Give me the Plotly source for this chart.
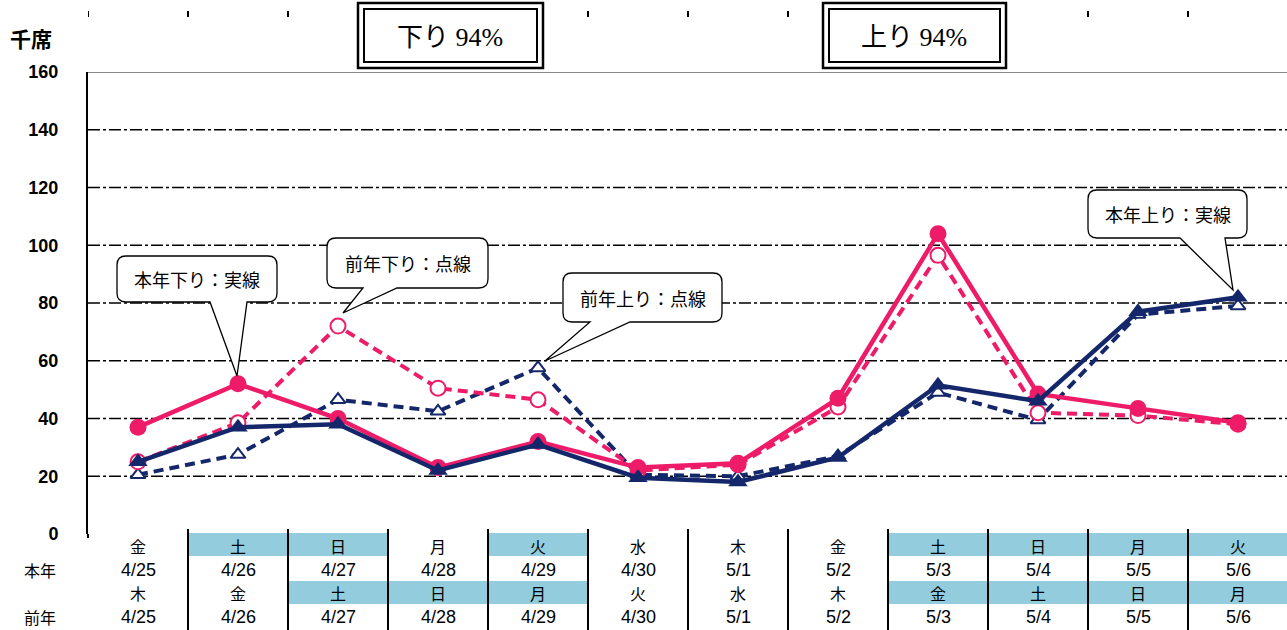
import plotly.graph_objects as go

# ---------------- data ----------------
DATES_THIS = ["4/25", "4/26", "4/27", "4/28", "4/29", "4/30", "5/1", "5/2", "5/3", "5/4", "5/5", "5/6"]
DOW_THIS = ["金", "土", "日", "月", "火", "水", "木", "金", "土", "日", "月", "火"]
HOLIDAY_THIS = [0, 1, 1, 0, 1, 0, 0, 0, 1, 1, 1, 1]
DATES_PREV = ["4/25", "4/26", "4/27", "4/28", "4/29", "4/30", "5/1", "5/2", "5/3", "5/4", "5/5", "5/6"]
DOW_PREV = ["木", "金", "土", "日", "月", "火", "水", "木", "金", "土", "日", "月"]
HOLIDAY_PREV = [0, 0, 1, 1, 1, 0, 0, 0, 1, 1, 1, 1]

DOWN_THIS = [37, 52, 40, 23, 32, 23, 24.5, 47, 104, 48.5, 43.5, 38.5]
DOWN_PREV = [25, 38.5, 72, 50.5, 46.5, 22, 24, 44, 96.5, 42, 41, 38]
UP_THIS = [25, 37, 38, 22, 31, 19.5, 18, 26.5, 51.5, 46, 77, 82]
UP_PREV = [20.5, 27.5, 46.5, 42.5, 57.5, 20.5, 20, 27, 49, 39.5, 76, 79]

Y_TICKS = [0, 20, 40, 60, 80, 100, 120, 140, 160]
GRID_VALUES = [20, 40, 60, 80, 100, 120, 140]
BOX_TEXTS = ["下り 94%", "上り 94%"]
CALLOUTS = ["本年下り：実線", "前年下り：点線", "前年上り：点線", "本年上り：実線"]

PINK = "#EE1C68"
NAVY = "#15276B"
CYAN = "#93CDDD"
FONT = "Noto Sans CJK JP"

# ---------------- geometry helpers ----------------
W, H = 1287, 630
L, T, PW, PH = 88, 72, 1199, 462


def px(x):
    return (x - L) / PW


def py(y):
    return (T + PH - y) / PH


x = list(range(len(DATES_THIS)))

fig = go.Figure()

fig.add_trace(go.Scatter(
    x=x, y=UP_PREV, mode="lines+markers", name="前年上り",
    line=dict(color=NAVY, width=4, dash="10px,6px"),
    marker=dict(symbol="triangle-up", size=13, color="white", line=dict(color=NAVY, width=2)),
))
fig.add_trace(go.Scatter(
    x=x, y=DOWN_PREV, mode="lines+markers", name="前年下り",
    line=dict(color=PINK, width=4, dash="10px,6px"),
    marker=dict(symbol="circle", size=15, color="white", line=dict(color=PINK, width=2)),
))
fig.add_trace(go.Scatter(
    x=x, y=DOWN_THIS, mode="lines+markers", name="本年下り",
    line=dict(color=PINK, width=4.5),
    marker=dict(symbol="circle", size=17, color=PINK),
))
fig.add_trace(go.Scatter(
    x=x, y=UP_THIS, mode="lines+markers", name="本年上り",
    line=dict(color=NAVY, width=4.5),
    marker=dict(symbol="triangle-up", size=17, color=NAVY),
))

shapes = []
# gridlines
for g in GRID_VALUES:
    shapes.append(dict(type="line", xref="paper", yref="y", x0=0, x1=1, y0=g, y1=g,
                       line=dict(color="black", width=1.6, dash="12px,3px,3px,3px"), layer="below"))
# top border
shapes.append(dict(type="line", xref="paper", yref="y", x0=0, x1=1, y0=160, y1=160,
                   line=dict(color="#8a8a8a", width=2), layer="below"))
# left axis extension
shapes.append(dict(type="line", xref="paper", yref="paper", x0=0, x1=0, y0=py(534), y1=py(538),
                   line=dict(color="black", width=2)))

# table cell backgrounds
for i, h in enumerate(HOLIDAY_THIS):
    if h:
        shapes.append(dict(type="rect", xref="x", yref="paper", x0=i - 0.5, x1=i + 0.5,
                           y0=py(556), y1=py(533), fillcolor=CYAN, line=dict(width=0), layer="below"))
for i, h in enumerate(HOLIDAY_PREV):
    if h:
        shapes.append(dict(type="rect", xref="x", yref="paper", x0=i - 0.5, x1=i + 0.5,
                           y0=py(604), y1=py(581), fillcolor=CYAN, line=dict(width=0), layer="below"))
# table separators
for i in range(1, len(DATES_THIS)):
    shapes.append(dict(type="line", xref="x", yref="paper", x0=i - 0.5, x1=i - 0.5,
                       y0=py(630), y1=py(529), line=dict(color="black", width=2)))
# top tick marks
for i in range(len(DATES_THIS)):
    shapes.append(dict(type="line", xref="x", yref="paper", x0=i - 0.5, x1=i - 0.5,
                       y0=py(17), y1=py(11), line=dict(color="black", width=2)))

# double-bordered boxes at top
for (bx0, bx1) in [(358, 543), (823, 1006)]:
    shapes.append(dict(type="rect", xref="paper", yref="paper", x0=px(bx0), x1=px(bx1),
                       y0=py(68), y1=py(3), fillcolor="white", line=dict(color="black", width=2.5)))
    shapes.append(dict(type="rect", xref="paper", yref="paper", x0=px(bx0 + 6), x1=px(bx1 - 6),
                       y0=py(62), y1=py(9), fillcolor="white", line=dict(color="black", width=2)))


def bubble(x0, y0, x1, y1, bx0, bx1, tx, ty, r=9):
    def P(a, b):
        return f"{px(a):.5f},{py(b):.5f}"
    d = (f"M {P(x0 + r, y0)} L {P(x1 - r, y0)} Q {P(x1, y0)} {P(x1, y0 + r)} "
         f"L {P(x1, y1 - r)} Q {P(x1, y1)} {P(x1 - r, y1)} L {P(bx1, y1)} L {P(tx, ty)} "
         f"L {P(bx0, y1)} L {P(x0 + r, y1)} Q {P(x0, y1)} {P(x0, y1 - r)} "
         f"L {P(x0, y0 + r)} Q {P(x0, y0)} {P(x0 + r, y0)} Z")
    return dict(type="path", xref="paper", yref="paper", path=d, fillcolor="white",
                line=dict(color="black", width=1.3), layer="above")


BUBBLES = [
    (117, 256, 277, 302, 210, 247, 237, 376),
    (327, 238, 488, 288, 363, 397, 343, 313),
    (563, 273, 722, 322, 590, 630, 545, 361),
    (1088, 190, 1247, 238, 1180, 1225, 1233, 290),
]
for b in BUBBLES:
    shapes.append(bubble(*b))

annotations = []
for b, txt in zip(BUBBLES, CALLOUTS):
    annotations.append(dict(xref="paper", yref="paper", x=px((b[0] + b[2]) / 2), y=py((b[1] + b[3]) / 2),
                            text=txt, showarrow=False, xanchor="center", yanchor="middle",
                            font=dict(family=FONT, size=18, color="black")))
for (bx0, bx1), txt in zip([(358, 543), (823, 1006)], BOX_TEXTS):
    annotations.append(dict(xref="paper", yref="paper", x=px((bx0 + bx1) / 2), y=py(37),
                            text=txt, showarrow=False, xanchor="center", yanchor="middle",
                            font=dict(family="Liberation Serif, " + FONT, size=26, color="black")))

# table text
rows = [(DOW_THIS, 546, FONT, 16), (DATES_THIS, 570, "Liberation Sans", 18),
        (DOW_PREV, 593, FONT, 16), (DATES_PREV, 617, "Liberation Sans", 18)]
for vals, yy, fam, sz in rows:
    for i, v in enumerate(vals):
        annotations.append(dict(xref="x", yref="paper", x=i, y=py(yy), text=v, showarrow=False,
                                xanchor="center", yanchor="middle",
                                font=dict(family=fam, size=sz, color="black")))
for txt, yy in [("本年", 570), ("前年", 617)]:
    annotations.append(dict(xref="paper", yref="paper", x=px(40), y=py(yy), text=txt, showarrow=False,
                            xanchor="center", yanchor="middle",
                            font=dict(family=FONT, size=16, color="black")))
annotations.append(dict(xref="paper", yref="paper", x=px(31), y=py(38), text="<b>千席</b>", showarrow=False,
                        xanchor="center", yanchor="middle",
                        font=dict(family=FONT, size=21, color="black")))

fig.update_layout(
    width=W, height=H, margin=dict(l=L, r=W - L - PW, t=T, b=H - T - PH),
    plot_bgcolor="white", paper_bgcolor="white", showlegend=False,
    shapes=shapes, annotations=annotations,
    xaxis=dict(range=[-0.5, (PW / 100) - 0.5], visible=False, fixedrange=True),
    yaxis=dict(range=[0, 160], tickvals=Y_TICKS, ticktext=[f"<b>{v}</b>" for v in Y_TICKS],
               showgrid=False, zeroline=False, showline=True, linecolor="black", linewidth=2,
               ticks="", ticklabelstandoff=24,
               tickfont=dict(family="Liberation Sans", size=18, color="black")),
)

fig.write_html(
    "out.html",
    config={"displayModeBar": False},
    post_script="document.body.style.margin='0';document.body.style.overflow='hidden';",
)
